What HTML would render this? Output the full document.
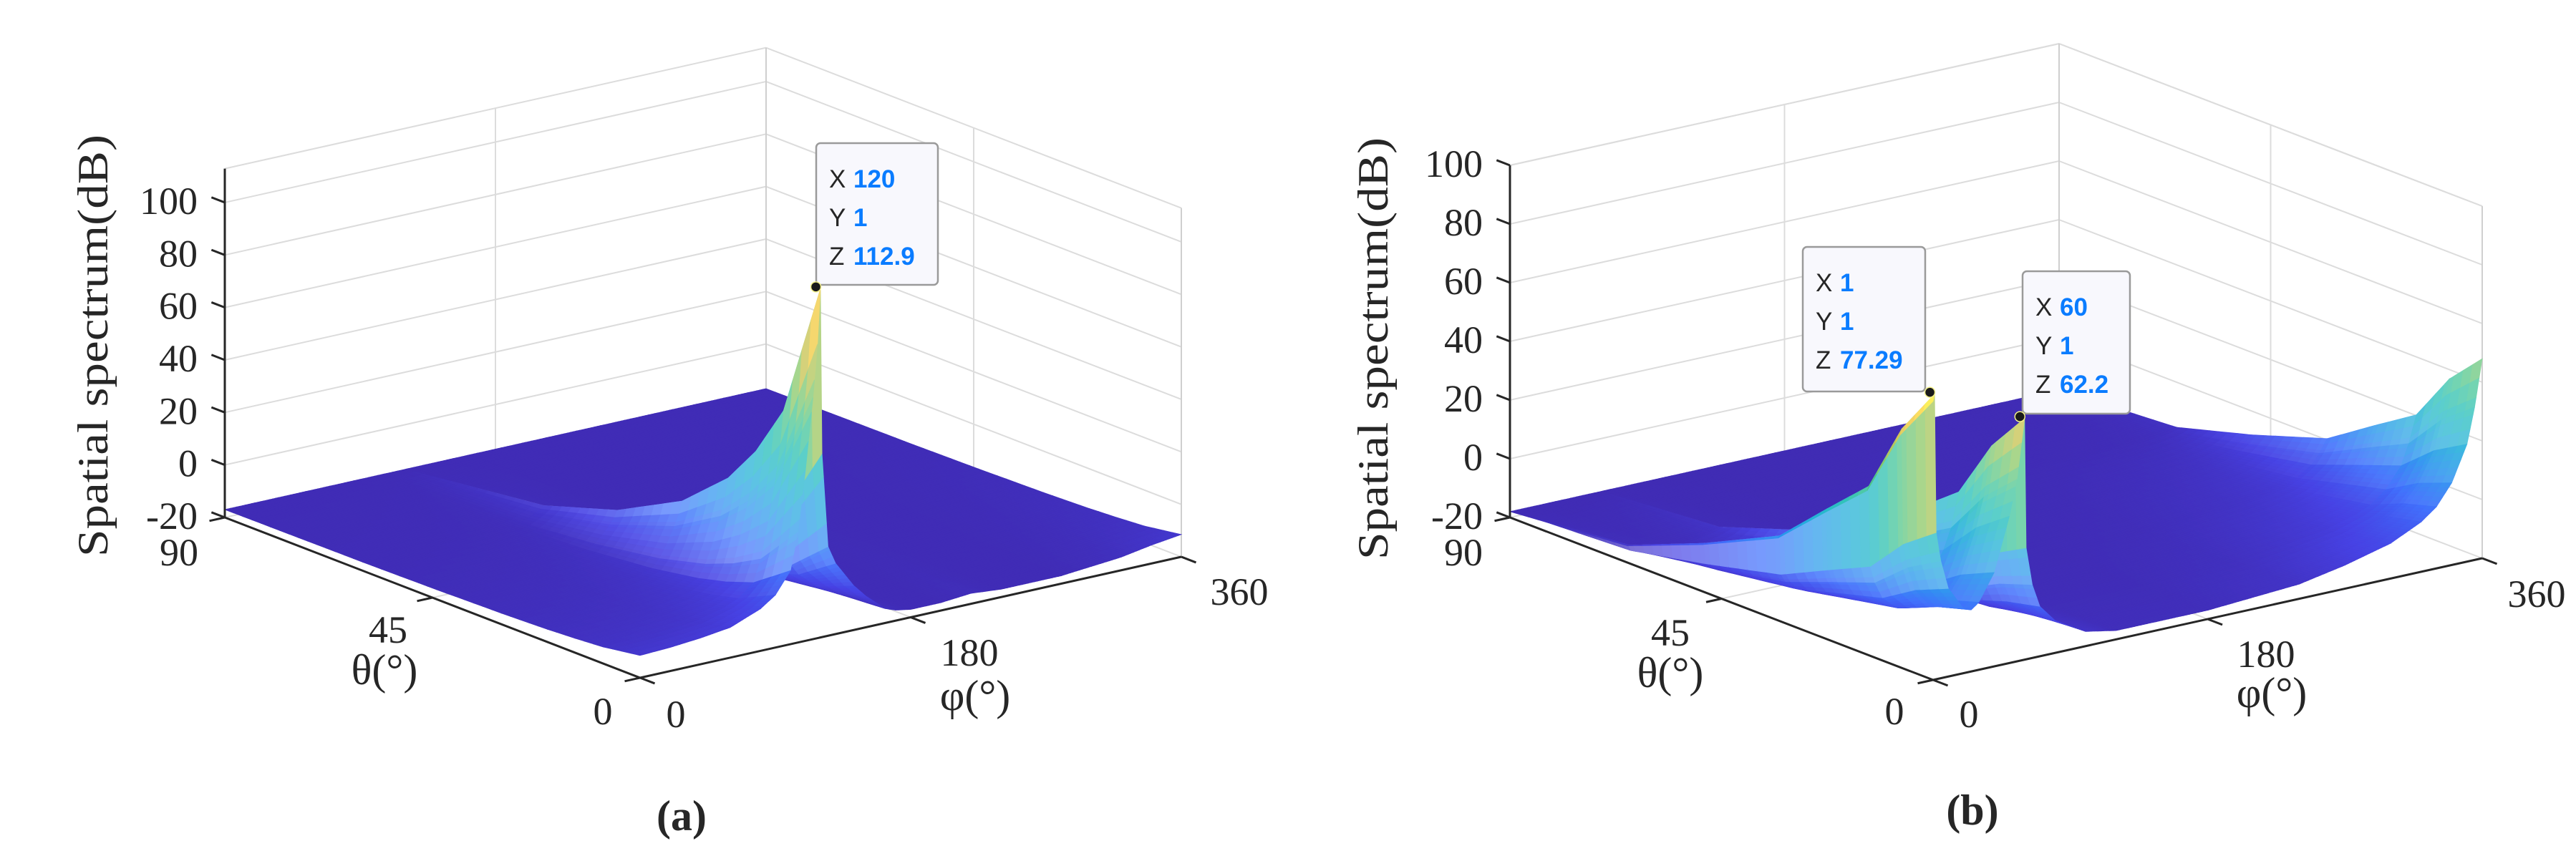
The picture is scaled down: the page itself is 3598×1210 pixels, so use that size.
<!DOCTYPE html>
<html><head><meta charset="utf-8">
<style>
html,body{margin:0;padding:0;background:#fff;}
svg{display:block;}
.tick{font-family:"Liberation Serif",serif;font-size:54px;fill:#262626;}
.lab{font-family:"Liberation Serif",serif;font-size:60px;fill:#262626;}
.tip{font-family:"Liberation Sans",sans-serif;font-size:35px;}
</style></head>
<body>
<svg id="fig" width="3598" height="1210" viewBox="0 0 3598 1210" xmlns="http://www.w3.org/2000/svg">
  <g id="panelA"></g>
  <g id="panelB"></g>
</svg>
<script>
// ---- Panel (a) data ----
const phiA   = [0,20,40,60,80,90,100,105,110,115,118,120,121,125,130,142,150,163,170,180,200,220,240,260,280,300,320,340,360];
const frontA = [-11.5,-11,-10,-8.5,-4,0,8,22,45,72,92,112.9,50,14,7,-3,-8,-14.5,-16,-17,-17,-16,-17,-17,-17,-16,-15,-13,-11.5];
const thetaA = [0,4,8,14,20,30,44,60,90];
const decayA = [1,0.8,0.6,0.45,0.34,0.22,0.12,0.05,0];
const baseA  = -17;
// ---- Panel (b) data ----
const phiB   = [0,1,2,5,10,20,25,30,40,50,55,60,61,65,70,80,100,120,150,180,210,240,270,300,320,330,340,350,355,360];
const frontB = [75,77.29,30,20,10,2,1,3,12,30,42,62.2,18,5,-3,-9,-15,-17,-17,-17,-16,-15,-12,-8,-3,1,8,20,32,48];
const thetaB = [0,7,14,23,33,49,65,90];
const decayB = [1,0.83,0.58,0.44,0.28,0.15,0.04,0];
const baseB  = -18;
// ---- axis ticks ----
const zTicks = [-20,0,20,40,60,80,100];
const thetaTicks = [0,45,90];
const phiTicks = [0,180,360];

const NS = "http://www.w3.org/2000/svg";
function mk(tag, attrs, parent){
  const e = document.createElementNS(NS, tag);
  for (const k in attrs) e.setAttribute(k, attrs[k]);
  parent.appendChild(e);
  return e;
}
function interp(xs, ys, x){
  if (x <= xs[0]) return ys[0];
  for (let i=1;i<xs.length;i++){
    if (x <= xs[i]){ const t=(x-xs[i-1])/(xs[i]-xs[i-1]); return ys[i-1]+t*(ys[i]-ys[i-1]); }
  }
  return ys[ys.length-1];
}
const parula = [[0,62,38,168],[0.1,71,66,228],[0.2,62,110,252],[0.3,38,146,238],[0.4,22,172,214],[0.5,20,186,180],[0.6,60,194,140],[0.7,130,196,92],[0.8,205,188,60],[0.9,252,200,44],[1,249,251,14]];
function rgb(t){
  t=Math.max(0,Math.min(1,t));
  for (let i=1;i<parula.length;i++){
    if (t<=parula[i][0]){
      const a=parula[i-1], b=parula[i], u=(t-a[0])/(b[0]-a[0]);
      return [1,2,3].map(k=>a[k]+u*(b[k]-a[k]));
    }
  }
  return [249,251,14];
}
function css(c,w){ return "rgb("+c.map(v=>Math.round(v+(255-v)*w)).join(",")+")"; }

function panel(g, cfg){
  const F=cfg.F, R=cfg.R, L=cfg.L, k=cfg.k, zmin=-20, zmax=cfg.zmax;
  const P=(phi,th,z)=>[F[0]+phi/360*(R[0]-F[0])+th/90*(L[0]-F[0]), F[1]+phi/360*(R[1]-F[1])+th/90*(L[1]-F[1])-(z-zmin)*k];
  const line=(a,b,stroke,w,name)=>{
    const e=mk("line",{x1:a[0],y1:a[1],x2:b[0],y2:b[1],stroke:stroke,"stroke-width":w},g);
    
    
    return e;
  };
  const grid="#dcdcdc";
  zTicks.forEach(z=>{
    line(P(0,90,z),P(360,90,z),grid,2,"gridline-left-wall");
    line(P(360,90,z),P(360,0,z),grid,2,"gridline-right-wall");
  });
  line(P(0,90,zmax),P(360,90,zmax),grid,2,"box-top-left");
  line(P(360,90,zmax),P(360,0,zmax),grid,2,"box-top-right");
  line(P(180,90,zmin),P(180,90,zmax),grid,2,"gridline-phi-180");
  line(P(360,45,zmin),P(360,45,zmax),grid,2,"gridline-theta-45");
  line(P(360,90,zmin),P(360,90,zmax),"#cfcfcf",2,"box-back-edge");
  line(P(360,0,zmin),P(360,0,zmax),"#cfcfcf",2,"box-right-edge");
  line(P(180,0,zmin),P(180,90,zmin),grid,2,"floor-gridline-phi");
  line(P(0,45,zmin),P(360,45,zmin),grid,2,"floor-gridline-theta");

  const phis=new Set(); for(let p=0;p<=360;p+=2) phis.add(p); cfg.phi.forEach(p=>phis.add(p));
  const ths=new Set(); for(let t=0;t<=90;t+=2) ths.add(t); cfg.theta.forEach(t=>ths.add(t));
  const PH=[...phis].sort((a,b)=>a-b), TH=[...ths].sort((a,b)=>a-b);
  const Z=(pi,ti)=>{ const f=interp(cfg.phi,cfg.front,PH[pi]); const d=interp(cfg.theta,cfg.decay,TH[ti]); return cfg.base+(f-cfg.base)*d; };
  const zs=[]; for(let ti=0;ti<TH.length;ti++){ zs[ti]=[]; for(let pi=0;pi<PH.length;pi++) zs[ti][pi]=Z(pi,ti); }
  const quads=[];
  for(let ti=0;ti<TH.length-1;ti++) for(let pi=0;pi<PH.length-1;pi++){
    quads.push([ti,pi,TH[ti]/90+PH[pi]/360]);
  }
  quads.sort((a,b)=>b[2]-a[2]);
  const surf=mk("g",{},g);
  
  
  const lo=-20, hi=cfg.cmax;
  quads.forEach(q=>{
    const ti=q[0], pi=q[1];
    const c=[[pi,ti],[pi+1,ti],[pi+1,ti+1],[pi,ti+1]].map(([a,b])=>P(PH[a],TH[b],zs[b][a]));
    let area=0; for(let i=0;i<4;i++){ const a=c[i], b=c[(i+1)%4]; area+=a[0]*b[1]-b[0]*a[1]; } area=Math.abs(area)/2;
    const norm=area/((PH[pi+1]-PH[pi])*(TH[ti+1]-TH[ti])/4);
    const zm=(zs[ti][pi]+zs[ti][pi+1]+zs[ti+1][pi]+zs[ti+1][pi+1])/4;
    const base=rgb((zm-lo)/(hi-lo));
    const w=Math.max(0,Math.min(0.3,(norm-50)/500));
    const col=css(base,w);
    const e=mk("path",{d:"M"+c.map(p=>p[0].toFixed(1)+","+p[1].toFixed(1)).join("L")+"Z",fill:col,stroke:col,"stroke-width":0.8},surf);
    
    
  });

  line(P(0,90,zmin),P(0,90,zmax),"#262626",3,"z-axis");
  line(P(0,90,zmin),P(0,0,zmin),"#262626",3,"theta-axis");
  line(P(0,0,zmin),P(360,0,zmin),"#262626",3,"phi-axis");
  const ux=(R[0]-F[0])/Math.hypot(R[0]-F[0],R[1]-F[1]), uy=(R[1]-F[1])/Math.hypot(R[0]-F[0],R[1]-F[1]);
  const vx=(L[0]-F[0])/Math.hypot(L[0]-F[0],L[1]-F[1]), vy=(L[1]-F[1])/Math.hypot(L[0]-F[0],L[1]-F[1]);
  zTicks.forEach(z=>{ const p=P(0,90,z); line(p,[p[0]+vx*20,p[1]+vy*20],"#262626",3,"z-tick");
    const t=mk("text",{x:p[0]-38,y:p[1]+16,"text-anchor":"end",class:"tick"},g); t.textContent=z;
      });
  thetaTicks.forEach(th=>{ const p=P(0,th,zmin); line(p,[p[0]-ux*22,p[1]-uy*22],"#262626",3,"theta-tick"); });
  phiTicks.forEach(ph=>{ const p=P(ph,0,zmin); line(p,[p[0]-vx*22,p[1]-vy*22],"#262626",3,"phi-tick"); });
  cfg.labels.forEach(l=>{
    const t=mk("text",{x:l[1],y:l[2],"text-anchor":"middle",class:l[3]||"tick"},g); t.textContent=l[0];
     
    if(l[5]) t.setAttribute("font-weight","bold");
  });
  const zl=mk("text",{x:0,y:0,"text-anchor":"middle",class:"lab",transform:"translate("+cfg.zlab[0]+","+cfg.zlab[1]+") rotate(-90)",textLength:590,lengthAdjust:"spacingAndGlyphs"},g);
  zl.textContent="Spatial spectrum(dB)";
   

  cfg.tips.forEach(tp=>{
    const p=P(tp.phi,tp.th,tp.z);
    const tg=mk("g",{},g);
     
    mk("rect",{x:tp.box[0],y:tp.box[1],width:tp.box[2],height:tp.box[3],rx:6,fill:"#f8f8fd",stroke:"#9a9a9a","stroke-width":2.5},tg);
    const rows=[["X",tp.phi],["Y",tp.th],["Z",tp.z]];
    rows.forEach((r,i)=>{
      const y=tp.box[1]+62+i*54;
      const a=mk("text",{x:tp.box[0]+18,y:y,class:"tip",fill:"#262626"},tg); a.textContent=r[0];
       
      const b=mk("text",{x:tp.box[0]+52,y:y,class:"tip",fill:"#0a7cff","font-weight":"bold"},tg); b.textContent=r[1];
       
    });
    const d=mk("circle",{cx:p[0],cy:p[1],r:7,fill:"#1a1a1a",stroke:"#f3f08a","stroke-width":1.5},tg);
     
  });
}

panel(document.getElementById("panelA"),{
  F:[894,947],R:[1650,778],L:[314,723],k:3.667,zmax:112.9,cmax:112.9,
  phi:phiA,front:frontA,theta:thetaA,decay:decayA,base:baseA,
  zlab:[150,483],
  labels:[["90",250,790,"tick","theta-tick-label-90"],["45",542,898,"tick","theta-tick-label-45"],["θ(°)",537,956,"lab","theta-axis-title"],
          ["0",842,1012,"tick","theta-tick-label-0"],["0",944,1016,"tick","phi-tick-label-0"],["180",1354,930,"tick","phi-tick-label-180"],
          ["φ(°)",1362,992,"lab","phi-axis-title"],["360",1731,845,"tick","phi-tick-label-360"],["(a)",952,1160,"lab","caption-a",true]],
  tips:[{phi:120,th:1,z:112.9,box:[1140,200,170,198]}]
});
panel(document.getElementById("panelB"),{
  F:[2700,950],R:[3467,780],L:[2109,723],k:4.1,zmax:100,cmax:77.29,
  phi:phiB,front:frontB,theta:thetaB,decay:decayB,base:baseB,
  zlab:[1938,487],
  labels:[["90",2044,790,"tick","theta-tick-label-90"],["45",2333,902,"tick","theta-tick-label-45"],["θ(°)",2333,960,"lab","theta-axis-title"],
          ["0",2646,1012,"tick","theta-tick-label-0"],["0",2750,1016,"tick","phi-tick-label-0"],["180",3165,932,"tick","phi-tick-label-180"],
          ["φ(°)",3173,988,"lab","phi-axis-title"],["360",3543,848,"tick","phi-tick-label-360"],["(b)",2755,1152,"lab","caption-b",true]],
  tips:[{phi:1,th:1,z:77.29,box:[2518,345,171,202]},{phi:60,th:1,z:62.2,box:[2825,379,150,199]}]
});
</script>
</body></html>
